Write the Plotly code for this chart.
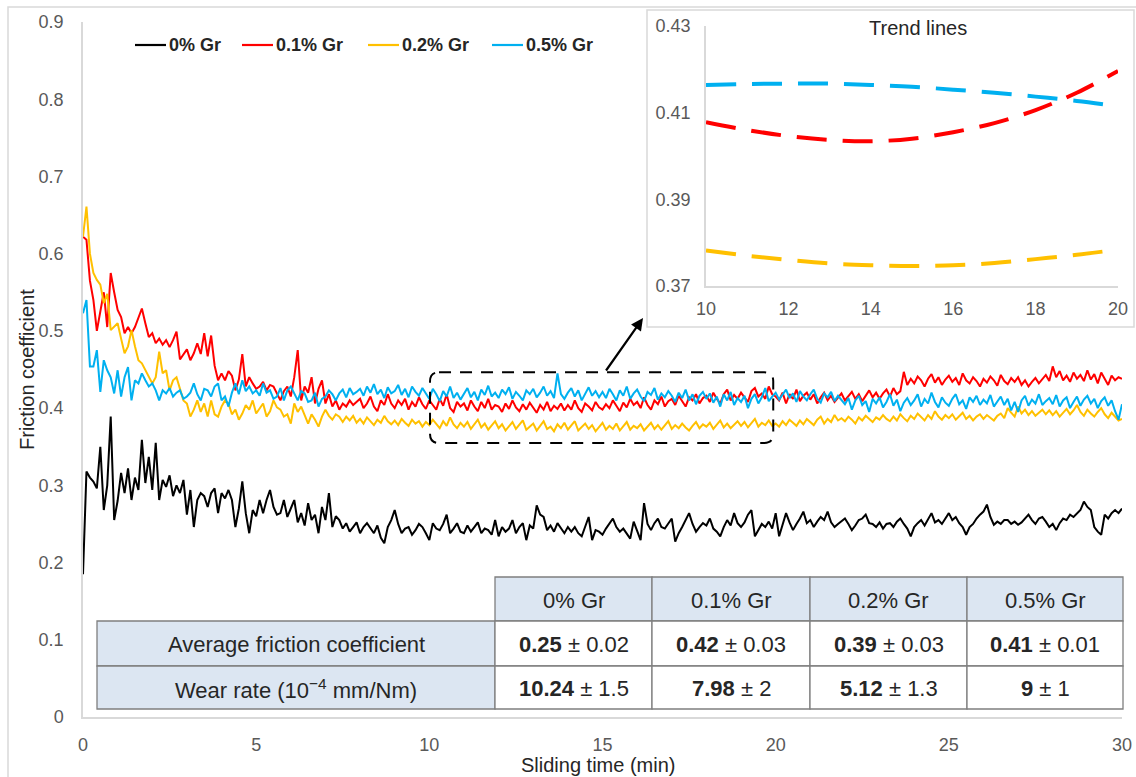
import numpy as np
import plotly.graph_objects as go

# ---------------------------------------------------------------- data
series_names = ["0% Gr", "0.1% Gr", "0.2% Gr", "0.5% Gr"]
series_colors = ["#000000", "#FF0000", "#FFC000", "#00B0F0"]

# sliding time grid (min), one reading every 0.1 min
time_min = np.round(np.linspace(0, 30, 301), 1)

cof_0 = [
    0.185, 0.318, 0.310, 0.305, 0.296, 0.350, 0.268, 0.300, 0.389, 0.255,
    0.280, 0.316, 0.290, 0.322, 0.281, 0.310, 0.294, 0.359, 0.303, 0.337,
    0.294, 0.355, 0.281, 0.307, 0.298, 0.313, 0.286, 0.300, 0.290, 0.307,
    0.262, 0.294, 0.246, 0.281, 0.290, 0.286, 0.272, 0.290, 0.296, 0.264,
    0.290, 0.283, 0.294, 0.281, 0.246, 0.270, 0.305, 0.264, 0.238, 0.268,
    0.260, 0.281, 0.264, 0.281, 0.294, 0.272, 0.262, 0.264, 0.281, 0.259,
    0.270, 0.281, 0.252, 0.264, 0.248, 0.277, 0.255, 0.262, 0.238, 0.272,
    0.255, 0.290, 0.246, 0.260, 0.255, 0.244, 0.251, 0.240, 0.246, 0.252,
    0.238, 0.246, 0.251, 0.244, 0.238, 0.248, 0.232, 0.225, 0.246, 0.255,
    0.268, 0.250, 0.238, 0.244, 0.246, 0.236, 0.242, 0.250, 0.246, 0.238,
    0.229, 0.251, 0.244, 0.242, 0.250, 0.262, 0.238, 0.244, 0.251, 0.240,
    0.238, 0.248, 0.240, 0.246, 0.252, 0.238, 0.244, 0.242, 0.236, 0.255,
    0.234, 0.246, 0.240, 0.244, 0.255, 0.238, 0.246, 0.251, 0.229, 0.248,
    0.244, 0.274, 0.262, 0.259, 0.242, 0.248, 0.240, 0.251, 0.244, 0.238,
    0.246, 0.240, 0.246, 0.238, 0.234, 0.248, 0.259, 0.229, 0.242, 0.240,
    0.236, 0.244, 0.250, 0.257, 0.246, 0.240, 0.244, 0.238, 0.231, 0.253,
    0.240, 0.229, 0.277, 0.250, 0.242, 0.251, 0.257, 0.246, 0.244, 0.250,
    0.257, 0.227, 0.238, 0.246, 0.255, 0.264, 0.250, 0.240, 0.246, 0.251,
    0.248, 0.257, 0.244, 0.240, 0.234, 0.246, 0.255, 0.248, 0.264, 0.251,
    0.246, 0.252, 0.262, 0.268, 0.234, 0.242, 0.250, 0.246, 0.253, 0.244,
    0.264, 0.234, 0.250, 0.264, 0.252, 0.242, 0.250, 0.257, 0.266, 0.251,
    0.255, 0.246, 0.253, 0.259, 0.255, 0.266, 0.252, 0.246, 0.250, 0.253,
    0.257, 0.250, 0.242, 0.248, 0.255, 0.257, 0.262, 0.251, 0.250, 0.246,
    0.252, 0.244, 0.250, 0.251, 0.246, 0.253, 0.257, 0.250, 0.244, 0.234,
    0.246, 0.251, 0.255, 0.248, 0.257, 0.264, 0.252, 0.255, 0.250, 0.257,
    0.264, 0.255, 0.259, 0.251, 0.246, 0.236, 0.246, 0.250, 0.257, 0.262,
    0.266, 0.275, 0.259, 0.249, 0.253, 0.250, 0.255, 0.255, 0.250, 0.253,
    0.249, 0.252, 0.257, 0.262, 0.255, 0.250, 0.257, 0.259, 0.253, 0.246,
    0.250, 0.242, 0.251, 0.257, 0.255, 0.262, 0.259, 0.264, 0.268, 0.279,
    0.272, 0.268, 0.246, 0.240, 0.236, 0.262, 0.257, 0.264, 0.268, 0.264,
    0.270,
]

cof_01 = [
    0.622, 0.618, 0.565, 0.540, 0.500, 0.527, 0.550, 0.505, 0.575, 0.550,
    0.527, 0.518, 0.497, 0.505, 0.497, 0.505, 0.518, 0.529, 0.510, 0.492,
    0.497, 0.484, 0.490, 0.482, 0.488, 0.479, 0.488, 0.499, 0.463, 0.470,
    0.476, 0.462, 0.471, 0.484, 0.470, 0.497, 0.467, 0.494, 0.455, 0.436,
    0.445, 0.436, 0.448, 0.442, 0.423, 0.437, 0.470, 0.428, 0.440, 0.432,
    0.425, 0.428, 0.434, 0.423, 0.430, 0.428, 0.418, 0.410, 0.422, 0.428,
    0.415, 0.440, 0.475, 0.410, 0.428, 0.420, 0.440, 0.406, 0.425, 0.436,
    0.406, 0.418, 0.402, 0.410, 0.398, 0.406, 0.402, 0.410, 0.404, 0.408,
    0.412, 0.400, 0.406, 0.415, 0.402, 0.396, 0.410, 0.404, 0.418, 0.406,
    0.400, 0.410, 0.404, 0.412, 0.398, 0.408, 0.402, 0.414, 0.405, 0.399,
    0.410, 0.404, 0.398, 0.412, 0.403, 0.418, 0.400, 0.395, 0.408, 0.402,
    0.406, 0.397, 0.410, 0.402, 0.396, 0.408, 0.400, 0.412, 0.398, 0.404,
    0.402, 0.395, 0.406, 0.399, 0.410, 0.401, 0.396, 0.405, 0.398, 0.407,
    0.400, 0.394, 0.404, 0.398, 0.408, 0.396, 0.403, 0.399, 0.406, 0.397,
    0.404, 0.398, 0.410, 0.400, 0.395, 0.406, 0.402, 0.397, 0.408, 0.401,
    0.398, 0.405, 0.400, 0.410, 0.403, 0.396, 0.407, 0.401, 0.412, 0.404,
    0.408, 0.400, 0.414, 0.404, 0.398, 0.410, 0.405, 0.415, 0.402, 0.409,
    0.412, 0.404, 0.416, 0.408, 0.402, 0.414, 0.410, 0.418, 0.406, 0.413,
    0.416, 0.408, 0.420, 0.412, 0.406, 0.418, 0.424, 0.410, 0.417, 0.412,
    0.420, 0.414, 0.408, 0.422, 0.426, 0.415, 0.419, 0.412, 0.428, 0.418,
    0.415, 0.410, 0.420, 0.406, 0.418, 0.412, 0.424, 0.409, 0.416, 0.420,
    0.411, 0.418, 0.406, 0.414, 0.420, 0.410, 0.416, 0.408, 0.413, 0.419,
    0.410, 0.415, 0.421, 0.412, 0.418, 0.409, 0.416, 0.423, 0.414, 0.420,
    0.412, 0.419, 0.424, 0.415, 0.426, 0.418, 0.422, 0.447, 0.430, 0.438,
    0.432, 0.441, 0.436, 0.428, 0.438, 0.444, 0.433, 0.440, 0.430, 0.437,
    0.442, 0.434, 0.439, 0.430, 0.445, 0.436, 0.432, 0.440, 0.435, 0.428,
    0.438, 0.433, 0.441, 0.436, 0.429, 0.443, 0.435, 0.431, 0.439, 0.434,
    0.440, 0.430, 0.436, 0.428, 0.434, 0.439, 0.432, 0.437, 0.443, 0.435,
    0.454, 0.440, 0.448, 0.436, 0.442, 0.434, 0.446, 0.438, 0.443, 0.435,
    0.449, 0.437, 0.444, 0.432, 0.446, 0.438, 0.430, 0.442, 0.436, 0.440,
    0.438,
]

cof_02 = [
    0.622, 0.661, 0.600, 0.575, 0.566, 0.560, 0.536, 0.548, 0.501, 0.505,
    0.510, 0.490, 0.471, 0.480, 0.501, 0.480, 0.462, 0.458, 0.449, 0.440,
    0.432, 0.440, 0.473, 0.445, 0.449, 0.423, 0.436, 0.440, 0.425, 0.410,
    0.406, 0.389, 0.398, 0.410, 0.395, 0.406, 0.389, 0.410, 0.392, 0.389,
    0.402, 0.410, 0.406, 0.392, 0.398, 0.385, 0.393, 0.404, 0.398, 0.410,
    0.393, 0.400, 0.406, 0.389, 0.396, 0.410, 0.401, 0.398, 0.389, 0.392,
    0.380, 0.406, 0.395, 0.402, 0.390, 0.380, 0.392, 0.385, 0.376, 0.389,
    0.398, 0.390, 0.385, 0.392, 0.389, 0.382, 0.389, 0.384, 0.390, 0.381,
    0.386, 0.380, 0.388, 0.383, 0.378, 0.385, 0.381, 0.390, 0.383, 0.379,
    0.384, 0.378, 0.386, 0.381, 0.377, 0.385, 0.380, 0.383, 0.376, 0.382,
    0.378, 0.385, 0.380, 0.374, 0.383, 0.377, 0.388, 0.379, 0.374, 0.381,
    0.376, 0.382, 0.373, 0.379, 0.385, 0.375, 0.380, 0.372, 0.378, 0.383,
    0.374, 0.379, 0.371, 0.377, 0.382, 0.373, 0.378, 0.384, 0.372, 0.376,
    0.380, 0.371, 0.377, 0.383, 0.373, 0.376, 0.370, 0.379, 0.374, 0.381,
    0.372, 0.377, 0.383, 0.371, 0.376, 0.380, 0.373, 0.378, 0.370, 0.375,
    0.381, 0.372, 0.377, 0.373, 0.380, 0.371, 0.376, 0.382, 0.372, 0.377,
    0.374, 0.379, 0.371, 0.376, 0.381, 0.373, 0.378, 0.372, 0.377, 0.383,
    0.373, 0.378, 0.374, 0.380, 0.375, 0.371, 0.377, 0.382, 0.374, 0.379,
    0.376, 0.381, 0.373, 0.378, 0.384, 0.375, 0.380, 0.374, 0.379, 0.383,
    0.377, 0.382, 0.375, 0.380, 0.386, 0.376, 0.381, 0.378, 0.384, 0.377,
    0.380, 0.376, 0.383, 0.378, 0.385, 0.381, 0.377, 0.384, 0.379, 0.386,
    0.382, 0.378, 0.385, 0.389, 0.380, 0.386, 0.382, 0.391, 0.384, 0.387,
    0.383, 0.389, 0.385, 0.380, 0.388, 0.384, 0.390, 0.386, 0.382, 0.388,
    0.385, 0.391, 0.386, 0.383, 0.389, 0.384, 0.392, 0.387, 0.383, 0.390,
    0.386, 0.393, 0.388, 0.384, 0.391, 0.386, 0.396, 0.389, 0.385, 0.391,
    0.387, 0.392, 0.385, 0.389, 0.394, 0.386, 0.390, 0.384, 0.389, 0.392,
    0.386, 0.391, 0.388, 0.384, 0.390, 0.393, 0.387, 0.400, 0.394, 0.389,
    0.402, 0.393, 0.398, 0.391, 0.396, 0.390, 0.394, 0.398, 0.392, 0.397,
    0.391, 0.396, 0.389, 0.394, 0.399, 0.392, 0.397, 0.404, 0.395, 0.390,
    0.398, 0.393, 0.389, 0.395, 0.400, 0.392, 0.387, 0.394, 0.389, 0.384,
    0.386,
]

cof_05 = [
    0.523, 0.540, 0.454, 0.454, 0.475, 0.421, 0.462, 0.449, 0.440, 0.419,
    0.449, 0.415, 0.440, 0.453, 0.410, 0.436, 0.432, 0.445, 0.436, 0.428,
    0.432, 0.423, 0.410, 0.423, 0.419, 0.426, 0.415, 0.420, 0.423, 0.412,
    0.415, 0.420, 0.432, 0.418, 0.410, 0.425, 0.423, 0.415, 0.428, 0.432,
    0.410, 0.415, 0.402, 0.420, 0.432, 0.418, 0.436, 0.422, 0.428, 0.419,
    0.423, 0.416, 0.432, 0.420, 0.423, 0.412, 0.415, 0.426, 0.410, 0.423,
    0.428, 0.418, 0.410, 0.422, 0.419, 0.408, 0.410, 0.420, 0.402, 0.412,
    0.415, 0.423, 0.418, 0.410, 0.419, 0.424, 0.414, 0.426, 0.418, 0.421,
    0.425, 0.416, 0.428, 0.420, 0.431, 0.418, 0.424, 0.413, 0.427, 0.419,
    0.422, 0.430, 0.417, 0.425, 0.414, 0.428, 0.421, 0.416, 0.426, 0.419,
    0.412, 0.425, 0.418, 0.409, 0.422, 0.415, 0.428, 0.413, 0.420, 0.411,
    0.419, 0.426, 0.414, 0.421, 0.410, 0.424, 0.417, 0.429, 0.415, 0.420,
    0.413, 0.424, 0.418, 0.427, 0.412, 0.421, 0.416, 0.410, 0.423, 0.418,
    0.425, 0.414, 0.420, 0.428, 0.416, 0.422, 0.413, 0.445, 0.418, 0.412,
    0.420, 0.426, 0.415, 0.423, 0.410, 0.419, 0.427, 0.416, 0.422, 0.414,
    0.421, 0.413, 0.425, 0.418, 0.410, 0.423, 0.416, 0.428, 0.412, 0.419,
    0.424, 0.415, 0.409, 0.421, 0.417, 0.426, 0.411, 0.419, 0.414, 0.422,
    0.416, 0.408, 0.420, 0.413, 0.424, 0.410, 0.418, 0.405, 0.416, 0.421,
    0.412, 0.419, 0.407, 0.415, 0.402, 0.418, 0.410, 0.421, 0.404, 0.413,
    0.408, 0.416, 0.400, 0.412, 0.418, 0.406, 0.414, 0.426, 0.409, 0.415,
    0.420, 0.411, 0.417, 0.424, 0.413, 0.419, 0.408, 0.422, 0.415, 0.410,
    0.418, 0.424, 0.412, 0.407, 0.419, 0.414, 0.421, 0.409, 0.416, 0.411,
    0.405, 0.413, 0.398, 0.410, 0.416, 0.404, 0.409, 0.395, 0.412, 0.406,
    0.414, 0.401, 0.408, 0.418, 0.403, 0.411, 0.396, 0.407, 0.413, 0.404,
    0.410, 0.418, 0.402, 0.412, 0.406, 0.420, 0.408, 0.401, 0.414, 0.407,
    0.403, 0.412, 0.418, 0.405, 0.410, 0.399, 0.414, 0.408, 0.416, 0.404,
    0.411, 0.406, 0.417, 0.402, 0.409, 0.415, 0.404, 0.412, 0.397, 0.408,
    0.395, 0.410, 0.416, 0.403, 0.411, 0.406, 0.418, 0.404, 0.409, 0.413,
    0.405, 0.417, 0.402, 0.410, 0.414, 0.400, 0.408, 0.415, 0.403, 0.411,
    0.416, 0.406, 0.412, 0.400, 0.409, 0.414, 0.403, 0.410, 0.396, 0.385,
    0.405,
]

# polynomial trend lines, 10-20 min window
trend_time = [10, 11, 12, 13, 14, 15, 16, 17, 18, 19, 20]
trend_01 = [0.4078, 0.4060, 0.4046, 0.4037, 0.4034, 0.4040, 0.4055, 0.4076, 0.4106, 0.4146, 0.4196]
trend_02 = [0.3782, 0.3770, 0.3760, 0.3752, 0.3748, 0.3746, 0.3748, 0.3753, 0.3762, 0.3772, 0.3784]
trend_05 = [0.4164, 0.4166, 0.4167, 0.4167, 0.4164, 0.4160, 0.4153, 0.4146, 0.4137, 0.4127, 0.4115]

# summary table
table_rows = ["Average friction coefficient", "Wear rate (10<sup>−4</sup> mm/Nm)"]
avg_cof = [0.25, 0.42, 0.39, 0.41]
avg_cof_sd = [0.02, 0.03, 0.03, 0.01]
wear_rate = [10.24, 7.98, 5.12, 9]
wear_rate_sd = [1.5, 2, 1.3, 1]

# ---------------------------------------------------------------- layout helpers
W, H = 1136, 777
ML, MR, MT, MB = 83, 14, 22, 60
PW, PH = W - ML - MR, H - MT - MB

FONT = "Liberation Sans, Arial, sans-serif"
TICK_GREY = "#595959"
AXIS_GREY = "#D9D9D9"
TEXT_DARK = "#262626"


def px(xp):
    return (xp - ML) / PW


def py(yp):
    return (H - MB - yp) / PH


fig = go.Figure()

# ---------------------------------------------------------------- main curves
for name, color, vals in zip(series_names, series_colors, [cof_0, cof_01, cof_02, cof_05]):
    fig.add_trace(go.Scatter(
        x=time_min, y=vals, mode="lines", name=name,
        line=dict(color=color, width=2), showlegend=False,
        xaxis="x", yaxis="y",
    ))

# ---------------------------------------------------------------- inset trend lines
for color, vals in zip(series_colors[1:], [trend_01, trend_02, trend_05]):
    fig.add_trace(go.Scatter(
        x=trend_time, y=vals, mode="lines", line_shape="spline",
        line=dict(color=color, width=4, dash="30px,16px"),
        showlegend=False, xaxis="x2", yaxis="y2",
    ))

shapes = []
annotations = []

# outer chart frame
shapes.append(dict(type="rect", xref="paper", yref="paper",
                   x0=px(8), x1=px(1150), y0=py(790), y1=py(7),
                   line=dict(color=AXIS_GREY, width=1.5), fillcolor="rgba(0,0,0,0)",
                   layer="below"))

# inset frame
shapes.append(dict(type="rect", xref="paper", yref="paper",
                   x0=px(647), x1=px(1134), y0=py(327), y1=py(10),
                   line=dict(color=AXIS_GREY, width=1.5), fillcolor="white",
                   layer="below"))

# dashed rounded box marking the 10-20 min window
bx0, bx1, by0, by1 = 10.02, 19.93, 0.3548, 0.4464
rx, ry = 9 / 34.63, 9 / 772.2
box_path = (
    f"M {bx0+rx},{by1} L {bx1-rx},{by1} Q {bx1},{by1} {bx1},{by1-ry} "
    f"L {bx1},{by0+ry} Q {bx1},{by0} {bx1-rx},{by0} "
    f"L {bx0+rx},{by0} Q {bx0},{by0} {bx0},{by0+ry} "
    f"L {bx0},{by1-ry} Q {bx0},{by1} {bx0+rx},{by1} Z"
)
shapes.append(dict(type="path", xref="x", yref="y", path=box_path,
                   line=dict(color="#000000", width=2, dash="12px,9px"),
                   layer="above"))

# arrow from the box to the inset
annotations.append(dict(xref="paper", yref="paper", x=px(643), y=py(318),
                        ax=-38, ay=54, text="", showarrow=True,
                        arrowhead=2, arrowsize=1.1, arrowwidth=2.2,
                        arrowcolor="#000000"))

# inset title
annotations.append(dict(xref="paper", yref="paper", x=px(918), y=py(28),
                        text="Trend lines", showarrow=False,
                        font=dict(family=FONT, size=20, color=TEXT_DARK),
                        xanchor="center", yanchor="middle"))

# legend (line keys + bold labels)
legend_x = [135, 242, 368, 492]
for name, color, lx in zip(series_names, series_colors, legend_x):
    shapes.append(dict(type="line", xref="paper", yref="paper",
                       x0=px(lx), x1=px(lx + 31), y0=py(45), y1=py(45),
                       line=dict(color=color, width=2.2)))
    annotations.append(dict(xref="paper", yref="paper", x=px(lx + 32), y=py(45),
                            text=f"<b>{name}</b>", showarrow=False,
                            xanchor="left", yanchor="middle",
                            font=dict(family=FONT, size=18, color=TEXT_DARK)))

# axis titles
annotations.append(dict(xref="paper", yref="paper", x=px(27), y=py(370),
                        text="Friction coefficient", textangle=-90, showarrow=False,
                        xanchor="center", yanchor="middle",
                        font=dict(family=FONT, size=20, color=TEXT_DARK)))
annotations.append(dict(xref="paper", yref="paper", x=px(598), y=py(765),
                        text="Sliding time (min)", showarrow=False,
                        xanchor="center", yanchor="middle",
                        font=dict(family=FONT, size=20, color=TEXT_DARK)))

# ---------------------------------------------------------------- summary table
col_edges = [97, 495, 652, 810, 967, 1123]
row_edges = [577, 621, 666, 709]
cell_fill = "#DCE6F2"
border = dict(color="#7F7F7F", width=1.3)
table_font = dict(family=FONT, size=22, color=TEXT_DARK)


def cell(x0, x1, y0, y1, fill, text):
    shapes.append(dict(type="rect", xref="paper", yref="paper",
                       x0=px(x0), x1=px(x1), y0=py(y1), y1=py(y0),
                       fillcolor=fill, line=border, layer="above"))
    annotations.append(dict(xref="paper", yref="paper",
                            x=px((x0 + x1) / 2), y=py((y0 + y1) / 2 + 1),
                            text=text, showarrow=False, xanchor="center",
                            yanchor="middle", font=table_font))


for j, name in enumerate(series_names):
    cell(col_edges[j + 1], col_edges[j + 2], row_edges[0], row_edges[1], cell_fill, name)

row_values = [
    [f"<b>{v:g}</b> ± {s:g}" for v, s in zip(avg_cof, avg_cof_sd)],
    [f"<b>{v:g}</b> ± {s:g}" for v, s in zip(wear_rate, wear_rate_sd)],
]
for i, label in enumerate(table_rows):
    y0, y1 = row_edges[i + 1], row_edges[i + 2]
    cell(col_edges[0], col_edges[1], y0, y1, cell_fill, label)
    for j, txt in enumerate(row_values[i]):
        cell(col_edges[j + 1], col_edges[j + 2], y0, y1, "white", txt)

# ---------------------------------------------------------------- axes
tick_font = dict(family=FONT, size=18, color=TICK_GREY)
fig.update_layout(
    width=W, height=H, autosize=False,
    margin=dict(l=ML, r=MR, t=MT, b=MB, pad=0),
    paper_bgcolor="white", plot_bgcolor="rgba(0,0,0,0)",
    showlegend=False,
    xaxis=dict(domain=[0, 1], range=[0, 30], tickvals=[0, 5, 10, 15, 20, 25, 30],
               showgrid=False, zeroline=False, showline=True, linecolor=AXIS_GREY,
               linewidth=1.5, ticks="", tickfont=tick_font, ticklabelstandoff=11,
               automargin=False, anchor="y"),
    yaxis=dict(domain=[0, 1], range=[0, 0.9],
               tickvals=[0, 0.1, 0.2, 0.3, 0.4, 0.5, 0.6, 0.7, 0.8, 0.9],
               ticktext=["0", "0.1", "0.2", "0.3", "0.4", "0.5", "0.6", "0.7", "0.8", "0.9"],
               showgrid=False, zeroline=False, showline=True, linecolor=AXIS_GREY,
               linewidth=1.5, ticks="", tickfont=tick_font, ticklabelstandoff=14,
               automargin=False, anchor="x"),
    xaxis2=dict(domain=[px(706), px(1118)], range=[10, 20],
                tickvals=[10, 12, 14, 16, 18, 20], showgrid=False, zeroline=False,
                showline=True, linecolor=AXIS_GREY, linewidth=1.5, ticks="",
                tickfont=tick_font, ticklabelstandoff=6, automargin=False, anchor="y2"),
    yaxis2=dict(domain=[py(286), py(26)], range=[0.37, 0.43],
                tickvals=[0.37, 0.39, 0.41, 0.43], tickformat=".2f",
                showgrid=False, zeroline=False, showline=True, linecolor=AXIS_GREY,
                linewidth=1.5, ticks="", tickfont=tick_font, ticklabelstandoff=10,
                automargin=False, anchor="x2"),
    shapes=shapes,
    annotations=annotations,
)

fig.write_html("out.html")
